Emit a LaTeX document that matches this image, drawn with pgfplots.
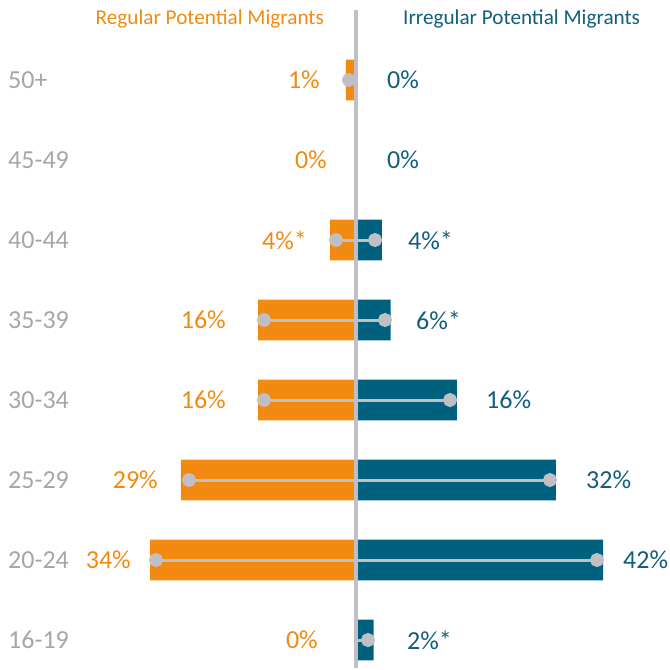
\documentclass[border=0pt]{standalone}
\usepackage{pgfplots}
\pgfplotsset{compat=1.18}
\usepackage{fontspec}
\setmainfont{Carlito}
\definecolor{org}{RGB}{242,138,18}
\definecolor{blu}{RGB}{0,97,127}
\definecolor{blut}{RGB}{18,94,124}
\definecolor{agegray}{RGB}{166,166,166}
\definecolor{linegray}{RGB}{192,192,196}
\tikzset{lab/.style={inner sep=0pt, font=\fontsize{26bp}{30bp}\selectfont}}
\begin{document}
\begin{tikzpicture}
\begin{axis}[
  scale only axis, width=670bp, height=668bp,
  xmin=-59.333, xmax=52.333, ymin=-1, ymax=7.35, y dir=reverse,
  axis lines=none, ticks=none, clip=false,
]
\path (rel axis cs:0,0) rectangle (rel axis cs:1,1);
% left bars (Regular)
\addplot[xbar, bar shift=0pt, bar width=0.51, fill=org, draw=none] coordinates {
(-1.67,0) (0,1) (-4.33,2) (-16.33,3) (-16.33,4) (-29.17,5) (-34.33,6) (0,7)};
% right bars (Irregular)
\addplot[xbar, bar shift=0pt, bar width=0.51, fill=blu, draw=none] coordinates {
(0,0) (0,1) (4.33,2) (5.78,3) (16.83,4) (33.33,5) (41.17,6) (2.95,7)};
% centre line
\draw[linegray, line width=3.5bp] (axis cs:0,-0.875) -- (axis cs:0,7.35);
% range lines with dots
\pgfplotsset{rng/.style={linegray, line width=3bp, mark=*, mark size=5.5bp, mark options={fill=linegray, draw=none}}}
\addplot[rng, mark indices={1}] coordinates {(-1.17,0) (0,0)};
\addplot[rng] coordinates {(-3.33,2) (3.17,2)};
\addplot[rng] coordinates {(-15.33,3) (4.83,3)};
\addplot[rng] coordinates {(-15.33,4) (15.67,4)};
\addplot[rng] coordinates {(-27.83,5) (32.33,5)};
\addplot[rng] coordinates {(-33.33,6) (40.17,6)};
\addplot[rng, mark indices={2}] coordinates {(0,7) (2.0,7)};
% titles
\node[org, anchor=east, inner sep=0pt, font=\fontsize{21.2bp}{25bp}\selectfont] at (axis cs:-5.33,-0.7625) {Regular Potential Migrants};
\node[blut, anchor=west, inner sep=0pt, font=\fontsize{21.2bp}{25bp}\selectfont] at (axis cs:7.83,-0.7625) {Irregular Potential Migrants};
% age labels
\node[agegray, anchor=west, lab] at (axis cs:-58.0,0) {50+};
\node[agegray, anchor=west, lab] at (axis cs:-58.0,1) {45-49};
\node[agegray, anchor=west, lab] at (axis cs:-58.0,2) {40-44};
\node[agegray, anchor=west, lab] at (axis cs:-58.0,3) {35-39};
\node[agegray, anchor=west, lab] at (axis cs:-58.0,4) {30-34};
\node[agegray, anchor=west, lab] at (axis cs:-58.0,5) {25-29};
\node[agegray, anchor=west, lab] at (axis cs:-58.0,6) {20-24};
\node[agegray, anchor=west, lab] at (axis cs:-58.0,7) {16-19};
% left value labels
\node[org, anchor=east, lab] at (axis cs:-6.0,0) {1\%};
\node[org, anchor=east, lab] at (axis cs:-4.83,1) {0\%};
\node[org, anchor=east, lab] at (axis cs:-8.17,2) {4\%*};
\node[org, anchor=east, lab] at (axis cs:-21.67,3) {16\%};
\node[org, anchor=east, lab] at (axis cs:-21.67,4) {16\%};
\node[org, anchor=east, lab] at (axis cs:-33.0,5) {29\%};
\node[org, anchor=east, lab] at (axis cs:-37.5,6) {34\%};
\node[org, anchor=east, lab] at (axis cs:-6.33,7) {0\%};
% right value labels
\node[blut, anchor=west, lab] at (axis cs:5.17,0) {0\%};
\node[blut, anchor=west, lab] at (axis cs:5.17,1) {0\%};
\node[blut, anchor=west, lab] at (axis cs:8.67,2) {4\%*};
\node[blut, anchor=west, lab] at (axis cs:10.0,3) {6\%*};
\node[blut, anchor=west, lab] at (axis cs:21.67,4) {16\%};
\node[blut, anchor=west, lab] at (axis cs:38.33,5) {32\%};
\node[blut, anchor=west, lab] at (axis cs:44.5,6) {42\%};
\node[blut, anchor=west, lab] at (axis cs:8.5,7) {2\%*};
\end{axis}
\end{tikzpicture}
\end{document}
